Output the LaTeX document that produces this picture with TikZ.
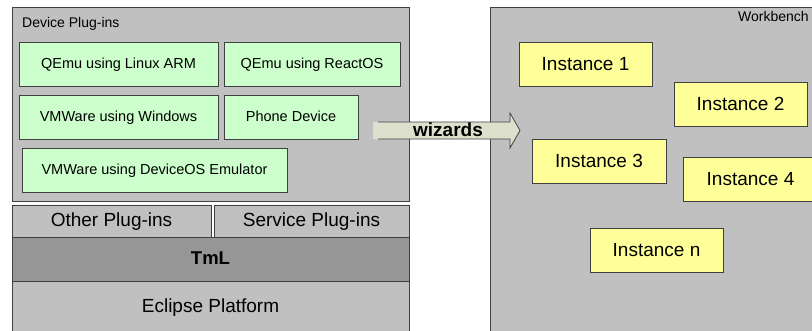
\documentclass[tikz,border=0pt]{standalone}
\usepackage{fontspec}
\setmainfont{Liberation Sans}
\definecolor{panel}{HTML}{C0C0C0}
\definecolor{tml}{HTML}{969696}
\definecolor{grn}{HTML}{CCFFCC}
\definecolor{ylw}{HTML}{FFFF99}
\definecolor{edge}{HTML}{404040}
\definecolor{wiz}{HTML}{DCE0CC}
\begin{document}
\begin{tikzpicture}[x=1pt,y=-1pt,
  base/.style={rectangle,draw=edge,line width=0.9pt,inner sep=0pt,outer sep=0pt,anchor=north west},
  panelbox/.style={base,fill=panel},
  greenbox/.style={base,fill=grn,font=\fontsize{14.5}{16}\selectfont,text height=10.5pt,text depth=1pt},
  instbox/.style={base,fill=ylw,font=\fontsize{19}{22}\selectfont,minimum width=133pt,minimum height=44pt,text height=13.7pt,text depth=1pt},
  layer/.style={base,fill=panel,font=\fontsize{19}{22}\selectfont,text height=13.7pt,text depth=2pt}]
\useasboundingbox[fill=white] (0,0) rectangle (812,330);
% left column
\node[panelbox,minimum width=397pt,minimum height=194pt] (dev) at (12,7) {};
\node[anchor=west,font=\fontsize{14}{16}\selectfont,inner sep=0pt] (devlbl) at (22,24) {Device Plug-ins};
\node[greenbox,minimum width=199pt,minimum height=44pt] (qarm) at (19,42) {QEmu using Linux ARM};
\node[greenbox,minimum width=176pt,minimum height=44pt] (qros) at (224,42) {QEmu using ReactOS};
\node[greenbox,minimum width=199pt,minimum height=44pt] (vmw) at (19,95) {VMWare using Windows};
\node[greenbox,minimum width=134pt,minimum height=44pt] (phone) at (224,95) {Phone Device};
\node[greenbox,minimum width=265pt,minimum height=44pt] (vmd) at (22,148) {VMWare using DeviceOS Emulator};
\node[layer,minimum width=199pt,minimum height=32pt] (other) at (12,205) {Other Plug-ins};
\node[layer,minimum width=195pt,minimum height=32pt] (serv) at (214,205) {Service Plug-ins};
\node[layer,fill=tml,minimum width=397pt,minimum height=44pt,font=\fontsize{18.5}{22}\selectfont\bfseries] (tml) at (12,237) {TmL};
\node[layer,minimum width=397pt,minimum height=60pt] (ecl) at (12,281) {};
\node[font=\fontsize{19}{22}\selectfont,text height=13.7pt,text depth=4pt] (ecltxt) at (210.5,307.5) {Eclipse Platform};
% workbench
\node[panelbox,minimum width=340pt,minimum height=340pt] (wb) at (490,7) {};
\node[anchor=north west,inner sep=0pt,font=\fontsize{14}{16}\selectfont] (wblbl) at (738,11) {Workbench};
\node[instbox] (i1) at (519,42) {Instance 1};
\node[instbox] (i2) at (674,82) {Instance 2};
\node[instbox,minimum width=134pt] (i3) at (532,139) {Instance 3};
\node[instbox,minimum width=135pt] (i4) at (683,157) {Instance 4};
\node[instbox] (in) at (590,228) {Instance n};
% wizards arrow
\fill[wiz] (373,122) -- (510,122) -- (510,113) -- (520,130.5) -- (510,148) -- (510,139) -- (373,139) -- cycle;
\draw[edge,line width=0.8pt] (378,122) -- (510,122) -- (510,113) -- (520,130.5) -- (510,148) -- (510,139) -- (378,139);
\node[font=\fontsize{19}{22}\selectfont\bfseries] (wiztxt) at (448,130) {wizards};
\end{tikzpicture}
\end{document}
